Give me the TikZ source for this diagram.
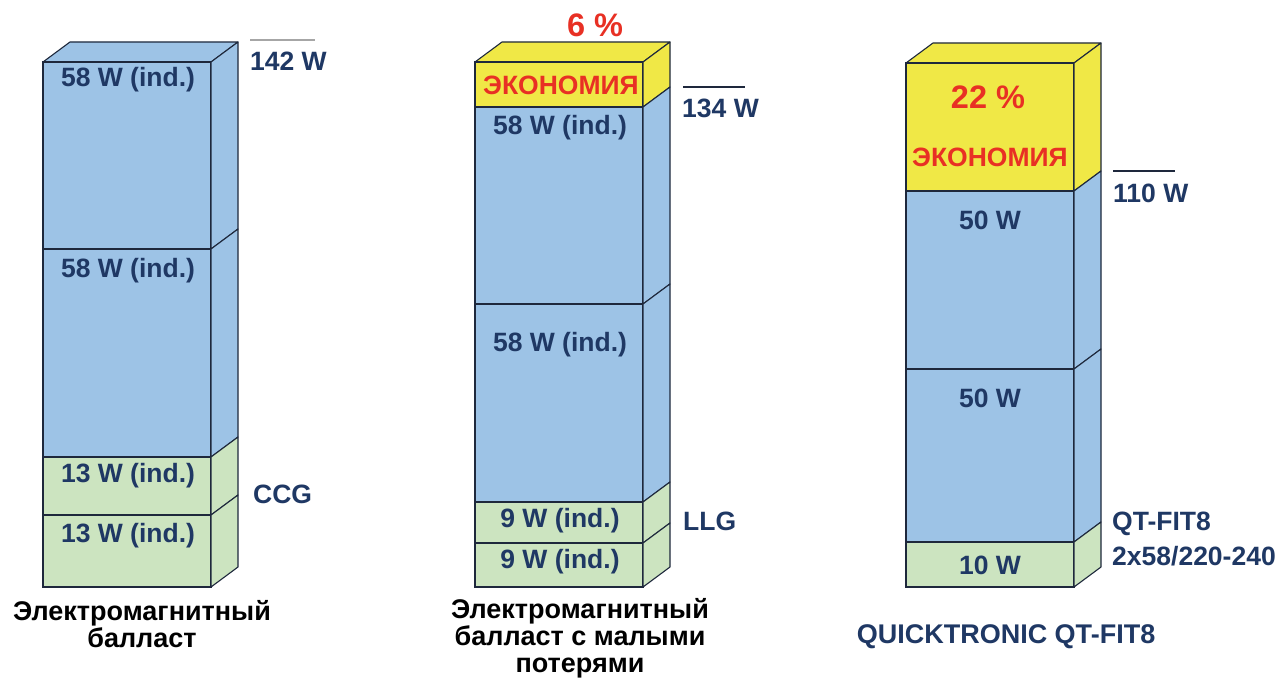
\documentclass[tikz,border=0pt]{standalone}
\usepackage{fontspec}
\setmainfont{Liberation Sans}
\definecolor{barblue}{RGB}{157,195,230}
\definecolor{bargreen}{RGB}{204,228,192}
\definecolor{baryellow}{RGB}{240,232,70}
\definecolor{edge}{RGB}{30,40,60}
\definecolor{txtblue}{RGB}{31,56,100}
\definecolor{txtred}{RGB}{232,48,36}
\newcommand\barseg[5]{%
  \filldraw[fill=#5,draw=edge,line width=1.1pt] (#1,#3) rectangle (#2,#4);
  \filldraw[fill=#5,draw=edge,line width=1.1pt,line join=round] (#2,#3) -- (#2+27,#3-20) -- (#2+27,#4-20) -- (#2,#4) -- cycle;
}
\newcommand\bartop[4]{%
  \filldraw[fill=#4,draw=edge,line width=1.1pt,line join=round] (#1,#3) -- (#1+27,#3-20) -- (#2+27,#3-20) -- (#2,#3) -- cycle;
}
\begin{document}
\begin{tikzpicture}[x=1pt,y=-1pt,
  seglabel/.style={font=\bfseries\fontsize{26.5}{28}\selectfont,text=txtblue,inner sep=0pt},
  sidelabel/.style={font=\bfseries\fontsize{26.5}{28}\selectfont,text=txtblue,inner sep=0pt,anchor=west},
  redlabel/.style={font=\bfseries\fontsize{26.5}{28}\selectfont,text=txtred,inner sep=0pt},
  pctlabel/.style={font=\bfseries\fontsize{32.5}{34}\selectfont,text=txtred,inner sep=0pt},
  caption/.style={font=\bfseries\fontsize{27}{27}\selectfont,text=black,inner sep=0pt,align=center},
  totline/.style={line width=1.2pt}]
\useasboundingbox[fill=white] (0,0) rectangle (1284,684);
% Bar 1
\bartop{43}{211}{62}{barblue}
\barseg{43}{211}{62}{249}{barblue}
\barseg{43}{211}{249}{457}{barblue}
\barseg{43}{211}{457}{515}{bargreen}
\barseg{43}{211}{515}{587}{bargreen}
\node[seglabel] (b1a) at (128,80) {58 W (ind.)};
\node[seglabel] (b1b) at (128,271) {58 W (ind.)};
\node[seglabel] (b1c) at (128,476) {13 W (ind.)};
\node[seglabel] (b1d) at (128,536) {13 W (ind.)};
\draw[totline,gray!70] (250,40) -- (315,40);
\node[sidelabel] (t1) at (250,61) {142 W};
\node[sidelabel] (ccg) at (253,494) {CCG};
\node[caption] (c1) at (142,624) {Электромагнитный\\балласт};
% Bar 2
\bartop{475}{643}{62}{baryellow}
\barseg{475}{643}{62}{107}{baryellow}
\barseg{475}{643}{107}{304}{barblue}
\barseg{475}{643}{304}{502}{barblue}
\barseg{475}{643}{502}{543}{bargreen}
\barseg{475}{643}{543}{587}{bargreen}
\node[pctlabel] (p2) at (595,25) {6 \%};
\node[redlabel] (e2) at (561,85) {ЭКОНОМИЯ};
\node[seglabel] (b2a) at (560,128) {58 W (ind.)};
\node[seglabel] (b2b) at (560,345) {58 W (ind.)};
\node[seglabel] (b2c) at (560,521) {9 W (ind.)};
\node[seglabel] (b2d) at (560,562) {9 W (ind.)};
\draw[totline,edge] (683,87) -- (745,87);
\node[sidelabel] (t2) at (682,108) {134 W};
\node[sidelabel] (llg) at (683,521) {LLG};
\node[caption] (c2) at (580,638) {Электромагнитный\\балласт с малыми\\потерями};
% Bar 3
\bartop{906}{1074}{63}{baryellow}
\barseg{906}{1074}{63}{191}{baryellow}
\barseg{906}{1074}{191}{369}{barblue}
\barseg{906}{1074}{369}{542}{barblue}
\barseg{906}{1074}{542}{587}{bargreen}
\node[pctlabel] (p3) at (988,97) {22 \%};
\node[redlabel] (e3) at (990,157) {ЭКОНОМИЯ};
\node[seglabel] (b3a) at (990,220) {50 W};
\node[seglabel] (b3b) at (990,398) {50 W};
\node[seglabel] (b3c) at (990,565) {10 W};
\draw[totline,edge] (1113,171) -- (1175,171);
\node[sidelabel] (t3) at (1113,193) {110 W};
\node[sidelabel] (qt1) at (1112,524) {QT-FIT8};
\node[sidelabel] (qt2) at (1112,556) {2x58/220-240};
\node[caption,text=txtblue] (c3) at (1006,637) {QUICKTRONIC QT-FIT8};
\end{tikzpicture}
\end{document}
